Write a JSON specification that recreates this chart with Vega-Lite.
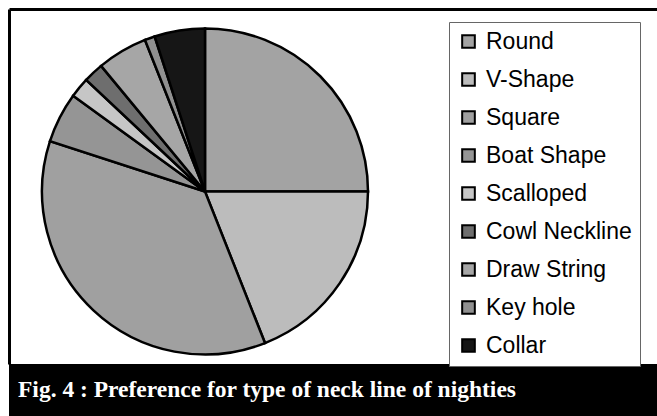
{
  "$schema": "https://vega.github.io/schema/vega-lite/v6.json",
  "background": "white",
  "padding": {"left": 9, "top": 9, "right": 0, "bottom": 0},
  "spacing": 0,
  "vconcat": [
    {
      "width": 648,
      "height": 355,
      "view": {"stroke": null},
      "data": {
        "values": [
          {"idx": 1, "type": "Round", "pct": 25},
          {"idx": 2, "type": "V-Shape", "pct": 19},
          {"idx": 3, "type": "Square", "pct": 36},
          {"idx": 4, "type": "Boat Shape", "pct": 5},
          {"idx": 5, "type": "Scalloped", "pct": 2},
          {"idx": 6, "type": "Cowl Neckline", "pct": 2},
          {"idx": 7, "type": "Draw String", "pct": 5},
          {"idx": 8, "type": "Key hole", "pct": 1},
          {"idx": 9, "type": "Collar", "pct": 5}
        ]
      },
      "mark": {"type": "arc", "outerRadius": 163, "stroke": "black", "strokeWidth": 2.5, "strokeJoin": "miter"},
      "encoding": {
        "theta": {"field": "pct", "type": "quantitative", "stack": true},
        "order": {"field": "idx", "type": "quantitative"},
        "x": {"datum": 196, "type": "quantitative", "scale": {"domain": [0, 648]},
              "axis": {"orient": "top", "ticks": false, "labels": false, "grid": false, "title": null, "domainColor": "black", "domainWidth": 3}},
        "y": {"datum": 182.5, "type": "quantitative", "scale": {"domain": [0, 355], "reverse": true},
              "axis": {"orient": "left", "ticks": false, "labels": false, "grid": false, "title": null, "domainColor": "black", "domainWidth": 3}},
        "color": {
          "field": "type", "type": "nominal",
          "scale": {
            "domain": ["Round", "V-Shape", "Square", "Boat Shape", "Scalloped", "Cowl Neckline", "Draw String", "Key hole", "Collar"],
            "range": ["#a3a3a3", "#bcbcbc", "#a0a0a0", "#959595", "#c6c6c6", "#6e6e6e", "#a6a6a6", "#909090", "#161616"]
          },
          "legend": {
            "title": null,
            "orient": "none",
            "legendX": 440,
            "legendY": 13,
            "padding": 8,
            "rowPadding": 14,
            "symbolType": "square",
            "symbolSize": 160,
            "symbolStrokeColor": "black",
            "symbolStrokeWidth": 2,
            "symbolOpacity": 1,
            "labelFont": "Liberation Sans",
            "labelFontSize": 23,
            "labelColor": "black",
            "labelOffset": 6,
            "labelLimit": 300,
            "strokeColor": "#666",
            "fillColor": "white"
          }
        }
      }
    },
    {
      "width": 648,
      "height": 52,
      "view": {"fill": "black", "stroke": null},
      "data": {"values": [{"caption": "Fig. 4 : Preference for type of neck line of nighties"}]},
      "mark": {"type": "text", "font": "Liberation Serif", "fontWeight": "bold", "fontSize": 23.5, "color": "white", "align": "left", "baseline": "middle"},
      "encoding": {
        "text": {"field": "caption", "type": "nominal"},
        "x": {"value": 9}
      }
    }
  ]
}
